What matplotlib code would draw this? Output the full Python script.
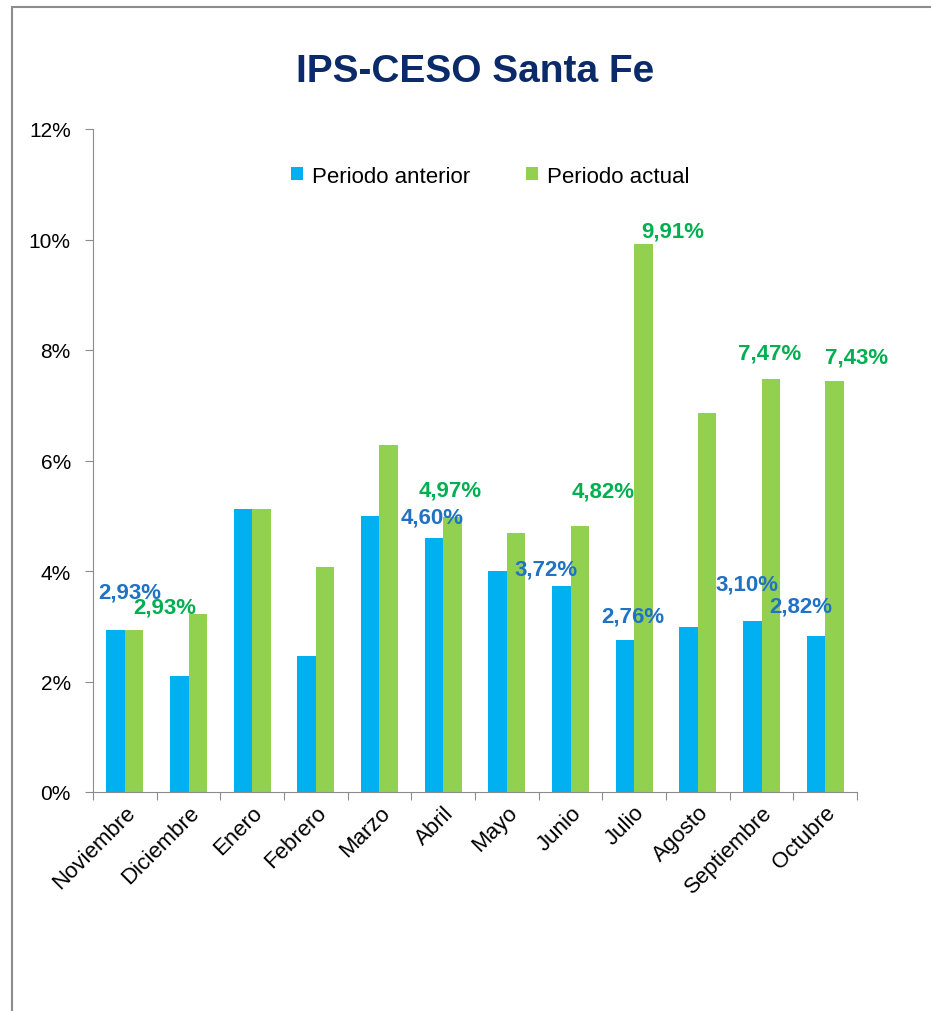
import numpy as np
import matplotlib.pyplot as plt
from matplotlib.patches import Rectangle

# datos del grafico
meses = ['Noviembre', 'Diciembre', 'Enero', 'Febrero', 'Marzo', 'Abril',
         'Mayo', 'Junio', 'Julio', 'Agosto', 'Septiembre', 'Octubre']
periodo_anterior = [2.93, 2.10, 5.12, 2.46, 5.00, 4.60, 4.00, 3.72, 2.76, 2.99, 3.10, 2.82]
periodo_actual = [2.93, 3.23, 5.12, 4.07, 6.28, 4.97, 4.69, 4.82, 9.91, 6.86, 7.47, 7.43]

# etiquetas de datos (indice, texto) - solo algunas barras estan rotuladas
etiq_anterior = [(0, '2,93%'), (5, '4,60%'), (7, '3,72%'), (8, '2,76%'), (10, '3,10%'), (11, '2,82%')]
etiq_actual = [(0, '2,93%'), (5, '4,97%'), (7, '4,82%'), (8, '9,91%'), (10, '7,47%'), (11, '7,43%')]

# posiciones de las etiquetas (x, y en unidades de datos), colocadas a mano como en el original
pos_anterior = [(0.08, 3.62), (4.82, 4.98), (6.61, 4.04), (7.98, 3.19), (9.77, 3.76), (10.62, 3.37)]
pos_actual = [(0.63, 3.35), (5.11, 5.47), (7.51, 5.45), (8.61, 10.15), (10.13, 7.95), (11.5, 7.87)]

AZUL = '#00B0F0'
VERDE = '#92D050'
AZUL_TXT = '#1F72C4'
VERDE_TXT = '#00B050'
GRIS = '#8C8C8C'

plt.rcParams['font.family'] = ['Liberation Sans', 'DejaVu Sans']

fig = plt.figure(figsize=(9.31, 10.12), dpi=100)
fig.patches.append(Rectangle((12 / 931, -0.05), 1.1, 1 - 8 / 1012 + 0.05,
                             transform=fig.transFigure, fill=False,
                             edgecolor=GRIS, linewidth=1.5))

ax = fig.add_axes([93 / 931, 1 - 793 / 1012, (857 - 93) / 931, (793 - 130) / 1012])

x = np.arange(len(meses))
ancho = 0.29
ax.bar(x - ancho / 2, periodo_anterior, ancho, color=AZUL, label='Periodo anterior')
ax.bar(x + ancho / 2, periodo_actual, ancho, color=VERDE, label='Periodo actual')

for (i, txt), (px, py) in zip(etiq_anterior, pos_anterior):
    ax.text(px, py, txt, color=AZUL_TXT, fontsize=16, fontweight='bold',
            ha='center', va='center')
for (i, txt), (px, py) in zip(etiq_actual, pos_actual):
    ax.text(px, py, txt, color=VERDE_TXT, fontsize=16, fontweight='bold',
            ha='center', va='center')

ax.set_xlim(-0.5, len(meses) - 0.5)
ax.set_ylim(0, 12)
ax.set_yticks(range(0, 13, 2))
ax.set_yticklabels([f'{v}%' for v in range(0, 13, 2)], fontsize=15)

ax.set_xticks(np.arange(-0.5, len(meses), 1.0))
ax.set_xticklabels([])
ax.set_xticks(x, minor=True)
ax.set_xticklabels(meses, minor=True, rotation=45, ha='right', rotation_mode='anchor', fontsize=16)
ax.tick_params(axis='x', which='minor', length=0, pad=7)
ax.tick_params(axis='x', which='major', length=6, color=GRIS)
ax.tick_params(axis='y', length=6, color=GRIS, pad=10)

for lado in ['top', 'right']:
    ax.spines[lado].set_visible(False)
for lado in ['left', 'bottom']:
    ax.spines[lado].set_color(GRIS)

ax.legend(loc='upper center', bbox_to_anchor=(0.52, 0.975), ncol=2, frameon=False,
          fontsize=16, handlelength=0.55, handleheight=0.55, columnspacing=2.5,
          handletextpad=0.4)

fig.text(475 / 931, 1 - 72 / 1012, 'IPS-CESO Santa Fe', color='#0B2A6A',
         fontsize=28, fontweight='bold', ha='center', va='center')

fig.savefig('out.png', dpi=100)
